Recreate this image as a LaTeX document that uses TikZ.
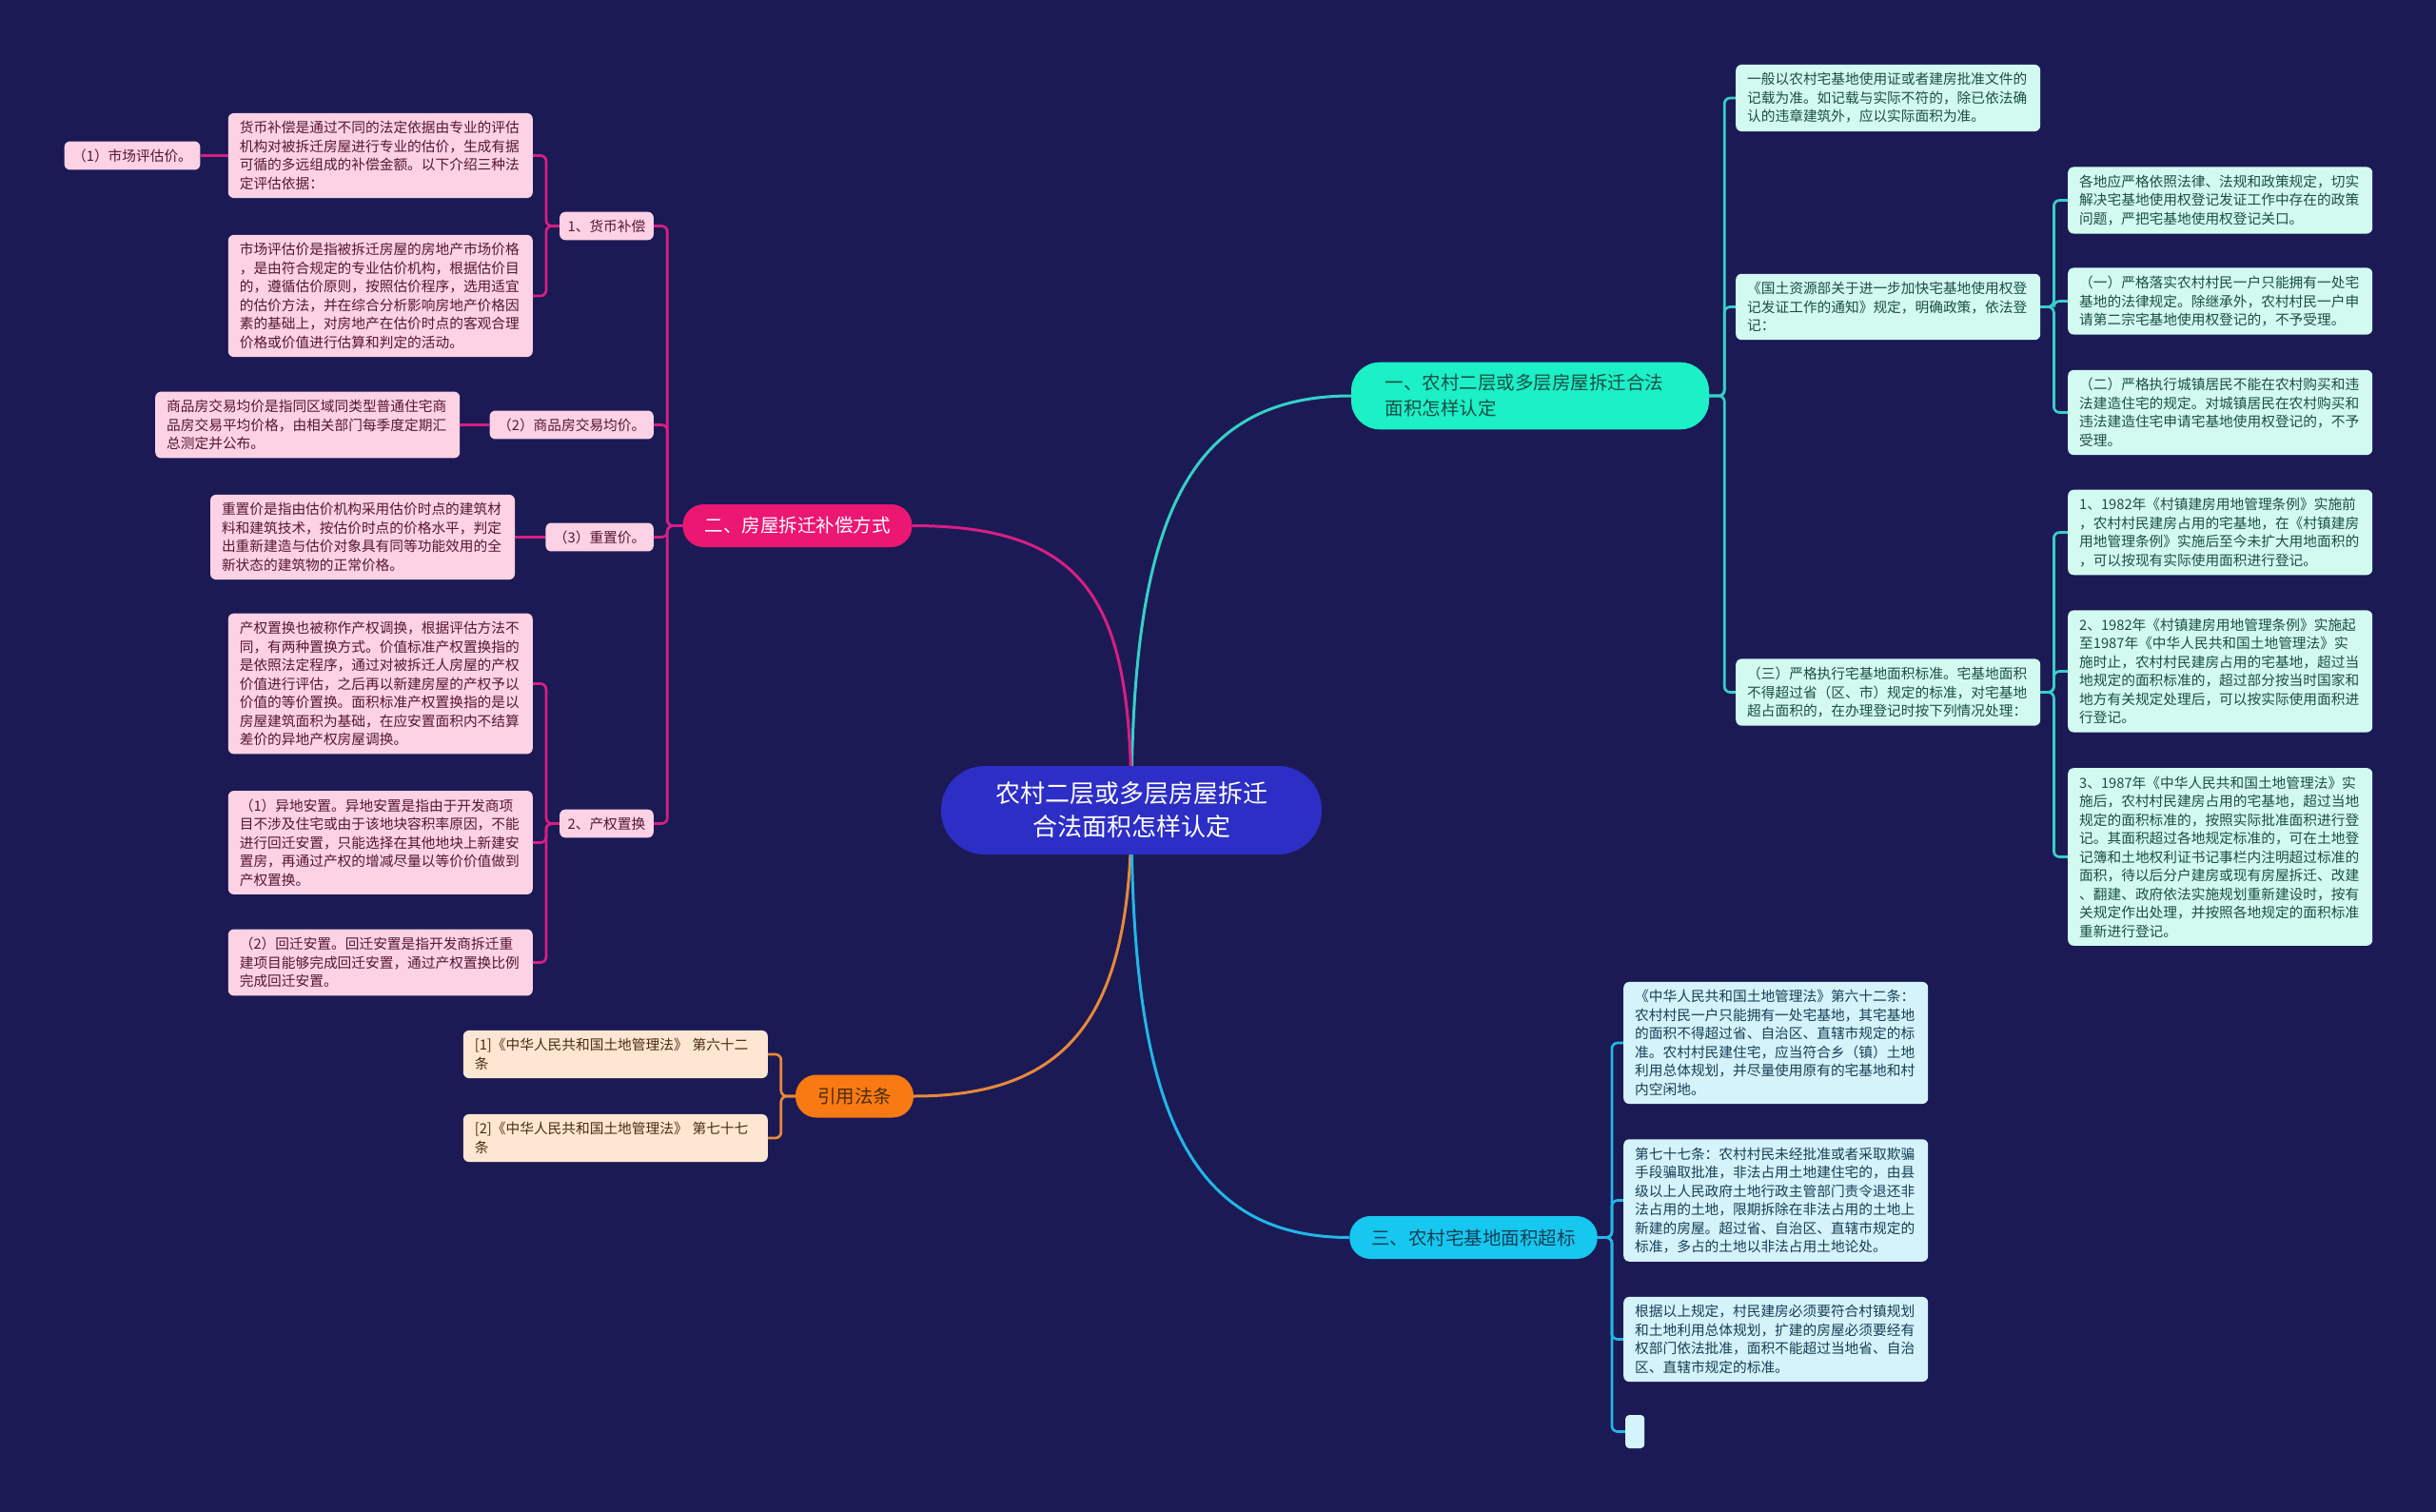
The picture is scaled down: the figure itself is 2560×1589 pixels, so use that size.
\documentclass[tikz,border=0pt]{standalone}
\usepackage{fontspec}
\setmainfont{Noto Sans CJK SC}
\usetikzlibrary{positioning,backgrounds}
\definecolor{navybg}{HTML}{1B1A55}
\definecolor{rootblue}{HTML}{2C2EC6}
\definecolor{tealmain}{HTML}{1BF0C6}
\definecolor{tealline}{HTML}{36D0C8}
\definecolor{tealfill}{HTML}{D2FAF0}
\definecolor{tealtext}{HTML}{1C4E47}
\definecolor{pinkmain}{HTML}{EC1673}
\definecolor{pinkline}{HTML}{D81E84}
\definecolor{pinkfill}{HTML}{FCD2E4}
\definecolor{pinktext}{HTML}{561633}
\definecolor{orangemain}{HTML}{F97A12}
\definecolor{orangeline}{HTML}{E8893A}
\definecolor{orangefill}{HTML}{FDE7D2}
\definecolor{orangetext}{HTML}{4A2C12}
\definecolor{cyanmain}{HTML}{16C7F0}
\definecolor{cyanline}{HTML}{22B6E6}
\definecolor{cyanfill}{HTML}{D4F3FA}
\definecolor{cyantext}{HTML}{173F56}

\begin{document}
\begin{tikzpicture}[x=1pt,y=-1pt,
  every node/.style={font=\fontsize{14.7}{19.5}\selectfont},
  root/.style={fill=rootblue,text=white,rounded corners=46pt,minimum width=400pt,minimum height=93pt,inner ysep=16pt,align=center,font=\fontsize{26}{35}\selectfont},
  topic/.style={rounded corners=22pt,minimum height=45pt,inner xsep=23pt,font=\fontsize{19.5}{27}\selectfont},
  leaf/.style={rounded corners=6pt,text width=296pt,inner xsep=12pt,inner ysep=8.5pt,align=left},
  tag/.style={rounded corners=6pt,inner xsep=8.5pt,inner ysep=8pt,fill=pinkfill,text=pinktext},
  pinkbox/.style={leaf,fill=pinkfill,text=pinktext},
  tealbox/.style={leaf,fill=tealfill,text=tealtext},
  orangebox/.style={leaf,fill=orangefill,text=orangetext},
  cyanbox/.style={leaf,fill=cyanfill,text=cyantext},
  link/.style={line width=3pt},
  fork/.style={line width=2.7pt,rounded corners=6pt}
]
\useasboundingbox (0,0) rectangle (2560,1589);

% centre and main topics
\node[root] (root) at (1189,851.5) {农村二层或多层房屋拆迁\\合法面积怎样认定};
\node[topic,fill=tealmain,text=tealtext,text width=305pt,inner xsep=35.5pt,inner ysep=12.75pt,rounded corners=30pt,align=left] (b1) at (1608,416) {一、农村二层或多层房屋拆迁合法\\面积怎样认定};
\node[topic,fill=pinkmain,text=white] (b2) at (838,552.5) {二、房屋拆迁补偿方式};
\node[topic,fill=orangemain,text=orangetext] (b3) at (898,1152) {引用法条};
\node[topic,fill=cyanmain,text=cyantext] (b4) at (1548.5,1300.5) {三、农村宅基地面积超标};

% left: compensation
\node[tag,anchor=east] (n1) at (687,237.5) {1、货币补偿};
\node[tag,anchor=east] (n2) at (687,446.5) {（2）商品房交易均价。};
\node[tag,anchor=east] (n3) at (687,564.5) {（3）重置价。};
\node[tag,anchor=east] (n4) at (687,865.5) {2、产权置换};
\node[pinkbox,anchor=east] (d1) at (560,163.5) {货币补偿是通过不同的法定依据由专业的评估\\机构对被拆迁房屋进行专业的估价，生成有据\\可循的多远组成的补偿金额。以下介绍三种法\\定评估依据：};
\node[pinkbox,anchor=east] (d2) at (560,311) {市场评估价是指被拆迁房屋的房地产市场价格\\，是由符合规定的专业估价机构，根据估价目\\的，遵循估价原则，按照估价程序，选用适宜\\的估价方法，并在综合分析影响房地产价格因\\素的基础上，对房地产在估价时点的客观合理\\价格或价值进行估算和判定的活动。};
\node[tag,left=29pt of d1] (m1) {（1）市场评估价。};
\node[pinkbox,left=31pt of n2] (d3) {商品房交易均价是指同区域同类型普通住宅商\\品房交易平均价格，由相关部门每季度定期汇\\总测定并公布。};
\node[pinkbox,left=32pt of n3] (d4) {重置价是指由估价机构采用估价时点的建筑材\\料和建筑技术，按估价时点的价格水平，判定\\出重新建造与估价对象具有同等功能效用的全\\新状态的建筑物的正常价格。};
\node[pinkbox,anchor=east] (d5) at (560,718.5) {产权置换也被称作产权调换，根据评估方法不\\同，有两种置换方式。价值标准产权置换指的\\是依照法定程序，通过对被拆迁人房屋的产权\\价值进行评估，之后再以新建房屋的产权予以\\价值的等价置换。面积标准产权置换指的是以\\房屋建筑面积为基础，在应安置面积内不结算\\差价的异地产权房屋调换。};
\node[pinkbox,anchor=east] (d6) at (560,885.5) {（1）异地安置。异地安置是指由于开发商项\\目不涉及住宅或由于该地块容积率原因，不能\\进行回迁安置，只能选择在其他地块上新建安\\置房，再通过产权的增减尽量以等价价值做到\\产权置换。};
\node[pinkbox,anchor=east] (d7) at (560,1011.5) {（2）回迁安置。回迁安置是指开发商拆迁重\\建项目能够完成回迁安置，通过产权置换比例\\完成回迁安置。};

% left: cited laws
\node[orangebox,anchor=east] (c1) at (807,1108) {[1]《中华人民共和国土地管理法》 第六十二\\条};
\node[orangebox,anchor=east] (c2) at (807,1196) {[2]《中华人民共和国土地管理法》 第七十七\\条};

% right: area rules
\node[tealbox,anchor=west] (r1) at (1824,103) {一般以农村宅基地使用证或者建房批准文件的\\记载为准。如记载与实际不符的，除已依法确\\认的违章建筑外，应以实际面积为准。};
\node[tealbox,anchor=west] (r2) at (1824,322.5) {《国土资源部关于进一步加快宅基地使用权登\\记发证工作的通知》规定，明确政策，依法登\\记：};
\node[tealbox,anchor=west] (r3) at (1824,727.5) {（三）严格执行宅基地面积标准。宅基地面积\\不得超过省（区、市）规定的标准，对宅基地\\超占面积的，在办理登记时按下列情况处理：};
\node[tealbox,anchor=west] (r4) at (2173,210.5) {各地应严格依照法律、法规和政策规定，切实\\解决宅基地使用权登记发证工作中存在的政策\\问题，严把宅基地使用权登记关口。};
\node[tealbox,anchor=west] (r5) at (2173,316.5) {（一）严格落实农村村民一户只能拥有一处宅\\基地的法律规定。除继承外，农村村民一户申\\请第二宗宅基地使用权登记的，不予受理。};
\node[tealbox,anchor=west] (r6) at (2173,433.5) {（二）严格执行城镇居民不能在农村购买和违\\法建造住宅的规定。对城镇居民在农村购买和\\违法建造住宅申请宅基地使用权登记的，不予\\受理。};
\node[tealbox,anchor=west] (r7) at (2173,559.5) {1、1982年《村镇建房用地管理条例》实施前\\，农村村民建房占用的宅基地，在《村镇建房\\用地管理条例》实施后至今未扩大用地面积的\\，可以按现有实际使用面积进行登记。};
\node[tealbox,anchor=west] (r8) at (2173,705.5) {2、1982年《村镇建房用地管理条例》实施起\\至1987年《中华人民共和国土地管理法》实\\施时止，农村村民建房占用的宅基地，超过当\\地规定的面积标准的，超过部分按当时国家和\\地方有关规定处理后，可以按实际使用面积进\\行登记。};
\node[tealbox,anchor=west] (r9) at (2173,900.5) {3、1987年《中华人民共和国土地管理法》实\\施后，农村村民建房占用的宅基地，超过当地\\规定的面积标准的，按照实际批准面积进行登\\记。其面积超过各地规定标准的，可在土地登\\记簿和土地权利证书记事栏内注明超过标准的\\面积，待以后分户建房或现有房屋拆迁、改建\\、翻建、政府依法实施规划重新建设时，按有\\关规定作出处理，并按照各地规定的面积标准\\重新进行登记。};

% bottom: oversized plots
\node[cyanbox,anchor=west] (s1) at (1706,1096) {《中华人民共和国土地管理法》第六十二条：\\农村村民一户只能拥有一处宅基地，其宅基地\\的面积不得超过省、自治区、直辖市规定的标\\准。农村村民建住宅，应当符合乡（镇）土地\\利用总体规划，并尽量使用原有的宅基地和村\\内空闲地。};
\node[cyanbox,anchor=west] (s2) at (1706,1261.5) {第七十七条：农村村民未经批准或者采取欺骗\\手段骗取批准，非法占用土地建住宅的，由县\\级以上人民政府土地行政主管部门责令退还非\\法占用的土地，限期拆除在非法占用的土地上\\新建的房屋。超过省、自治区、直辖市规定的\\标准，多占的土地以非法占用土地论处。};
\node[cyanbox,anchor=west] (s3) at (1706,1407.5) {根据以上规定，村民建房必须要符合村镇规划\\和土地利用总体规划，扩建的房屋必须要经有\\权部门依法批准，面积不能超过当地省、自治\\区、直辖市规定的标准。};
\node[fill=cyanfill,rounded corners=4pt,minimum width=20pt,minimum height=35pt,inner sep=0pt,anchor=west] (s4) at (1708,1504.5) {};

\begin{scope}[on background layer]
\fill[navybg] (0,0) rectangle (2560,1589);
\draw[link,tealline] (root.center) .. controls (1189,560) and (1240,416) .. (b1.west);
\draw[link,pinkline] (root.center) .. controls (1189,640) and (1150,552.5) .. (b2.east);
\draw[link,orangeline] (root.center) .. controls (1189,1060) and (1130,1152) .. (b3.east);
\draw[link,cyanline] (root.center) .. controls (1189,1150) and (1240,1300.5) .. (b4.west);
% pink forks
\foreach \k in {n1,n2,n3,n4} \draw[fork,pinkline] (b2.west) -- ++(-16,0) |- (\k.east);
\foreach \k in {d1,d2} \draw[fork,pinkline] (n1.west) -- ++(-14,0) |- (\k.east);
\foreach \k in {d5,d6,d7} \draw[fork,pinkline] (n4.west) -- ++(-14,0) |- (\k.east);
\draw[fork,pinkline] (d1.west) -- (m1.east);
\draw[fork,pinkline] (n2.west) -- (d3.east);
\draw[fork,pinkline] (n3.west) -- (d4.east);
% orange forks
\foreach \k in {c1,c2} \draw[fork,orangeline] (b3.west) -- ++(-15,0) |- (\k.east);
% teal forks
\foreach \k in {r1,r2,r3} \draw[fork,tealline] (b1.east) -- ++(16,0) |- (\k.west);
\foreach \k in {r4,r5,r6} \draw[fork,tealline] (r2.east) -- ++(14,0) |- (\k.west);
\foreach \k in {r7,r8,r9} \draw[fork,tealline] (r3.east) -- ++(14,0) |- (\k.west);
% cyan forks
\foreach \k in {s1,s2,s3,s4} \draw[fork,cyanline] (b4.east) -- ++(15,0) |- (\k.west);
\end{scope}
\end{tikzpicture}
\end{document}
